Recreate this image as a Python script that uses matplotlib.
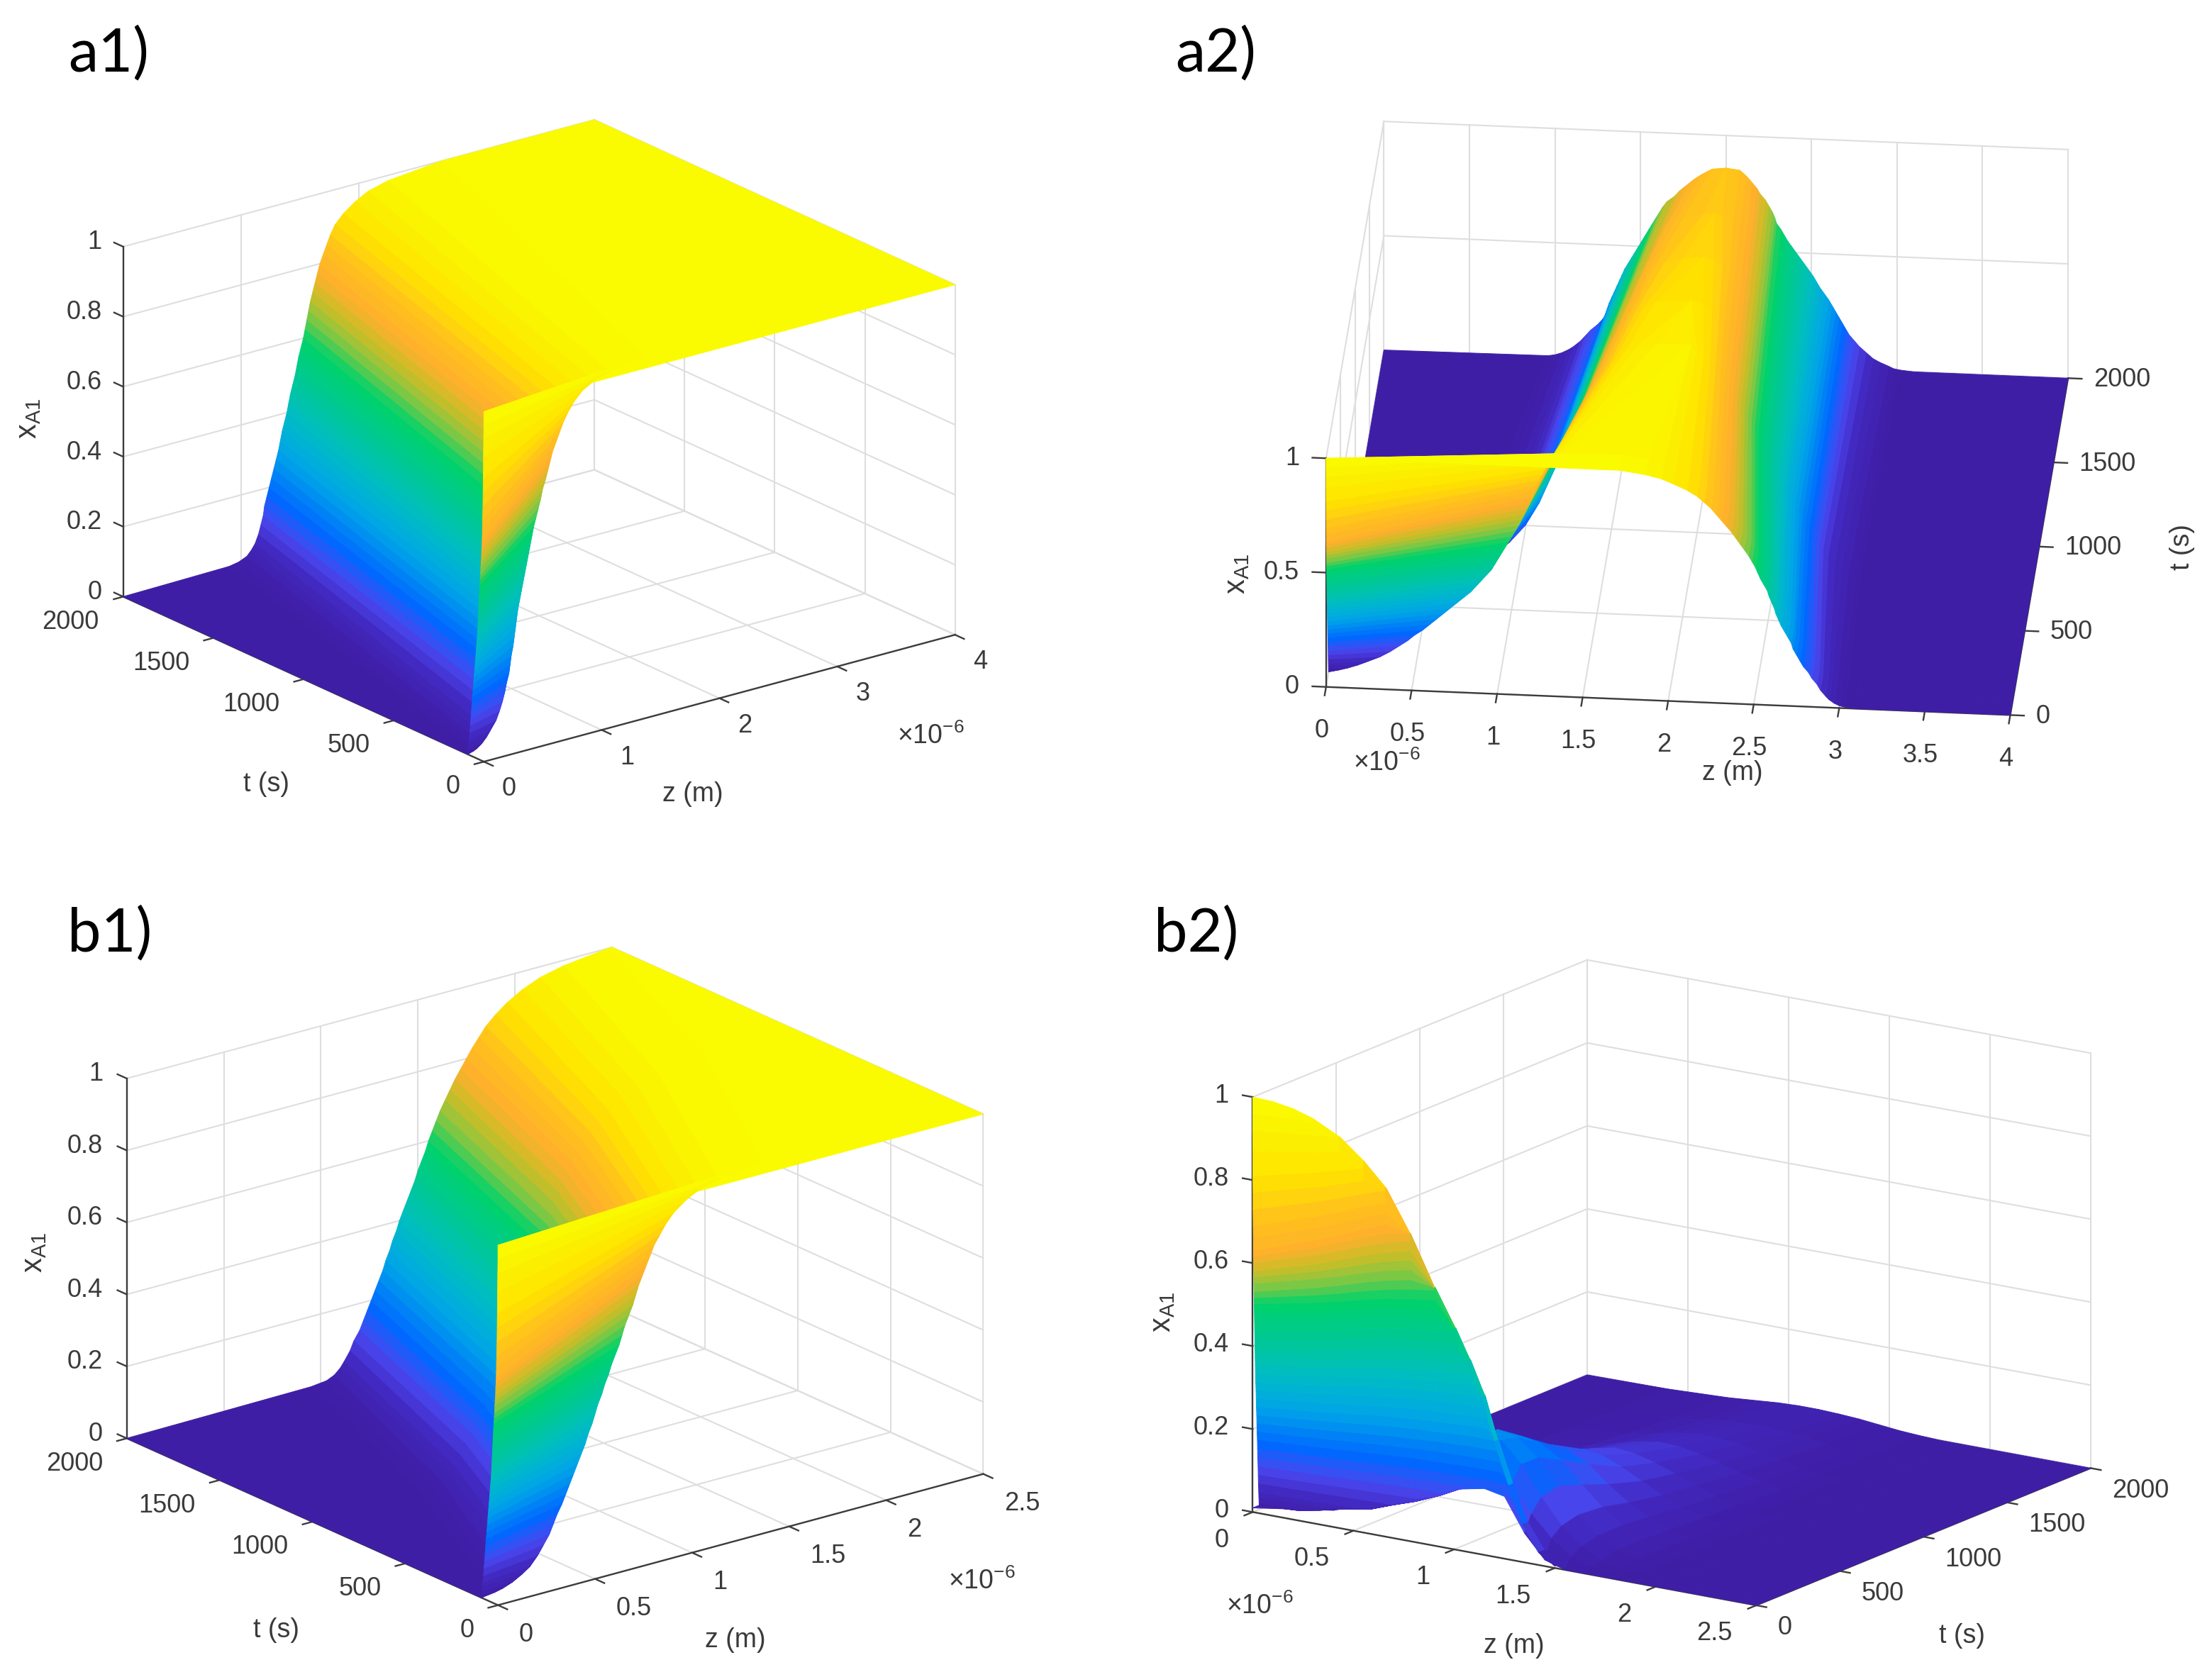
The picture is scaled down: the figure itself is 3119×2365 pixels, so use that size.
import numpy as np
import matplotlib
matplotlib.use("Agg")
import matplotlib.pyplot as plt
from matplotlib.colors import LinearSegmentedColormap
from mpl_toolkits.mplot3d import proj3d

plt.rcParams["font.family"] = ["Liberation Sans", "DejaVu Sans"]
plt.rcParams["mathtext.fontset"] = "custom"
plt.rcParams["mathtext.rm"] = "Liberation Sans"
plt.rcParams["mathtext.default"] = "regular"

# x_A1 levels, and the z position (in 1e-6 m) where each level sits at a few times
levels = [0, .005, .01, .02, .035, .05, .075, .1, .125, .15, .175, .2, .225, .25, .275, .3, .325, .35, .375, .4, .425, .45, .475,
          .5, .525, .55, .575, .6, .625, .65, .675, .7, .725, .75, .775, .8, .825, .85, .875, .9, .925, .95, .97, .985, 1]
# where each level meets the z=0 edge of the thin front sheet: time and height
edge_t = [90, 89, 88, 86, 84, 82, 78, 75, 72, 69, 66, 63, 60, 57, 54, 51, 48, 45, 42, 39, 36, 34, 32,
          30, 28, 26, 24, 22, 20, 18, 17, 15, 13, 12, 10, 9, 8, 7, 5, 4, 3, 2, 1, 0, 0]
edge_height = [0, .004, .008, .017, .03, .042, .064, .085, .106, .127, .149, .17, .19, .21, .23, .25, .27, .29, .31, .33, .35, .37, .39,
               .415, .435, .46, .48, .5, .515, .53, .55, .565, .58, .6, .615, .63, .66, .69, .73, .77, .81, .87, .92, .96, 1]

# a1
a1_times = [90, 2000]
a1_z_t90 = [0, .05, .08, .12, .16, .19, .24, .27, .295, .315, .33, .35, .36, .37, .385, .395, .405, .415, .425, .44, .455, .47, .485,
            .5, .515, .53, .545, .56, .58, .6, .62, .635, .66, .68, .7, .72, .75, .78, .81, .85, .9, .97, 1.07, 1.2, 1.5]
a1_z_t2000 = [0, .9, .98, 1.05, 1.09, 1.12, 1.15, 1.17, 1.19, 1.2, 1.22, 1.24, 1.26, 1.28, 1.3, 1.32, 1.335, 1.35, 1.37, 1.39, 1.405, 1.42, 1.44,
              1.46, 1.475, 1.49, 1.51, 1.53, 1.545, 1.56, 1.575, 1.59, 1.61, 1.63, 1.65, 1.67, 1.7, 1.73, 1.76, 1.8, 1.87, 1.97, 2.08, 2.25, 2.7]

# b1
b1_times = [90, 1000, 2000]
b1_z_t90 = [0, .07, .11, .16, .21, .25, .29, .32, .35, .37, .39, .415, .435, .455, .475, .495, .515, .535, .55, .57, .585, .6, .62,
            .635, .655, .67, .69, .71, .725, .74, .76, .78, .795, .81, .83, .85, .87, .89, .92, .95, .99, 1.05, 1.12, 1.22, 1.45]
b1_z_t1000 = [0, .55, .62, .66, .7, .73, .76, .79, .82, .84, .86, .88, .9, .925, .94, .955, .975, .995, 1.01, 1.03, 1.045, 1.065, 1.085,
              1.105, 1.12, 1.14, 1.16, 1.175, 1.195, 1.21, 1.23, 1.25, 1.275, 1.295, 1.32, 1.345, 1.37, 1.4, 1.43, 1.47, 1.52, 1.59, 1.67, 1.78, 2.02]
b1_z_t2000 = [0, .95, 1.03, 1.07, 1.1, 1.12, 1.15, 1.17, 1.2, 1.22, 1.24, 1.26, 1.28, 1.3, 1.32, 1.335, 1.355, 1.37, 1.39, 1.405, 1.425, 1.445, 1.465,
              1.485, 1.5, 1.52, 1.54, 1.555, 1.575, 1.595, 1.615, 1.64, 1.665, 1.69, 1.72, 1.75, 1.78, 1.815, 1.85, 1.9, 1.96, 2.04, 2.13, 2.25, 2.48]

# a2, rising side then falling side of the hump
a2_times = [90, 800, 2000]
a2_peak = [1, .97, .857]
a2_up_t90 = [0, .03, .06, .11, .17, .22, .3, .36, .41, .46, .5, .55, .59, .63, .67, .71, .75, .79, .83, .86, .89, .92, .95,
             .97, .99, 1.01, 1.03, 1.05, 1.07, 1.09, 1.11, 1.125, 1.14, 1.155, 1.17, 1.185, 1.2, 1.21, 1.225, 1.24, 1.26, 1.28, 1.31, 1.35, 1.45]
a2_up_t800 = [0, .68, .74, .82, .87, .9, .94, .97, 1.0, 1.03, 1.05, 1.07, 1.09, 1.11, 1.125, 1.14, 1.155, 1.17, 1.185, 1.2, 1.215, 1.23, 1.24,
              1.25, 1.265, 1.28, 1.295, 1.31, 1.325, 1.34, 1.355, 1.37, 1.385, 1.4, 1.42, 1.44, 1.465, 1.49, 1.525, 1.56, 1.61, 1.68, 1.8, 2.0, 2.0]
a2_up_t2000 = [0, .96, 1.0, 1.04, 1.08, 1.11, 1.15, 1.18, 1.21, 1.25, 1.28, 1.3, 1.31, 1.32, 1.335, 1.35, 1.365, 1.38, 1.395, 1.41, 1.43, 1.45, 1.47,
               1.49, 1.51, 1.53, 1.55, 1.57, 1.59, 1.61, 1.63, 1.655, 1.7, 1.73, 1.77, 1.81, 1.86, 1.92, 2.0, 2.0, 2.0, 2.0, 2.0, 2.0, 2.0]
a2_down_t90 = [3.1, 3.03, 3.0, 2.97, 2.94, 2.92, 2.89, 2.87, 2.84, 2.82, 2.79, 2.77, 2.75, 2.73, 2.72, 2.7, 2.68, 2.66, 2.645, 2.63, 2.62, 2.605, 2.59,
               2.58, 2.56, 2.54, 2.525, 2.51, 2.49, 2.47, 2.445, 2.42, 2.395, 2.37, 2.34, 2.31, 2.28, 2.25, 2.21, 2.17, 2.11, 2.03, 1.96, 1.87, 1.72]
a2_down_t800 = [3.05, 2.99, 2.96, 2.92, 2.88, 2.84, 2.8, 2.77, 2.75, 2.73, 2.71, 2.69, 2.67, 2.65, 2.63, 2.61, 2.59, 2.57, 2.555, 2.54, 2.52, 2.5, 2.48,
                2.46, 2.44, 2.42, 2.405, 2.39, 2.37, 2.35, 2.33, 2.31, 2.29, 2.27, 2.245, 2.22, 2.195, 2.17, 2.14, 2.11, 2.07, 2.03, 2.0, 2.0, 2.0]
a2_down_t2000 = [3.1, 3.02, 2.98, 2.95, 2.9, 2.86, 2.82, 2.78, 2.75, 2.72, 2.7, 2.68, 2.66, 2.64, 2.62, 2.6, 2.575, 2.55, 2.53, 2.51, 2.485, 2.46, 2.435,
                 2.41, 2.385, 2.36, 2.34, 2.32, 2.295, 2.285, 2.27, 2.25, 2.23, 2.2, 2.18, 2.15, 2.12, 2.08, 2.0, 2.0, 2.0, 2.0, 2.0, 2.0, 2.0]

# a2, closer look at the top of the hump, levels .8 and up
top_levels = [.8, .825, .85, .875, .9, .925, .95, .97, .985, 1]
top_times = [800, 1100, 1400, 1700, 2000]
top_peak = [.97, .94, .91, .88, .857]
top_up = [
    [1.44, 1.465, 1.49, 1.525, 1.56, 1.61, 1.68, 1.8, 2.0, 2.0],
    [1.52, 1.55, 1.58, 1.62, 1.67, 1.74, 1.95, 1.95, 1.95, 1.95],
    [1.6, 1.64, 1.68, 1.74, 1.85, 1.97, 1.97, 1.97, 1.97, 1.97],
    [1.69, 1.74, 1.8, 1.92, 1.98, 1.98, 1.98, 1.98, 1.98, 1.98],
    [1.81, 1.86, 1.92, 2.0, 2.0, 2.0, 2.0, 2.0, 2.0, 2.0],
]
top_down = [
    [2.22, 2.195, 2.17, 2.14, 2.11, 2.07, 2.03, 2.0, 2.0, 2.0],
    [2.2, 2.17, 2.14, 2.11, 2.07, 2.02, 1.95, 1.95, 1.95, 1.95],
    [2.18, 2.15, 2.12, 2.08, 2.03, 1.97, 1.97, 1.97, 1.97, 1.97],
    [2.17, 2.13, 2.09, 2.03, 1.98, 1.98, 1.98, 1.98, 1.98, 1.98],
    [2.15, 2.12, 2.08, 2.0, 2.0, 2.0, 2.0, 2.0, 2.0, 2.0],
]

# b2, sheet that drops from the t=0 curve to the low curve within a few seconds
b2_sheet_z = [0, .1, .2, .3, .43, .55, .66, .78, .9, 1.0, 1.07, 1.14, 1.2, 1.27, 1.34, 1.42, 1.5]
b2_top = [1, .998, .99, .975, .943, .895, .84, .74, .62, .53, .46, .38, .28, .18, .09, .03, .005]
b2_low = [.01, .012, .015, .025, .04, .05, .07, .09, .115, .14, .15, .155, .16, .13, .08, .025, .004]
b2_fan = [1, .9, .8, .7, .55, .4, .28, .18, .1, .05, 0, 0, 0, 0, 0, 0, 0]
b2_sheet_t = [40, 39, 39, 38, 37, 36, 34, 33, 32, 30, 29, 28, 26, 25, 24, 22, 21, 20, 18, 17, 16, 15, 14,
              13, 12, 11, 10, 9, 9, 8, 7, 7, 6, 5, 4, 4, 4, 3, 2, 2, 1, 1, 0, 0, 0]

# b2, low ridge that stays behind the sheet
b2_times = [0, 40, 100, 200, 344, 500, 700, 900, 1167, 1400, 1680, 2000]
b2_z = [0, .4, .7, .85, .95, 1.05, 1.15, 1.25, 1.35, 1.45, 1.55, 1.65, 1.75, 1.85, 2.0, 2.5]
b2_ridge = [
    [.01, .04, .09, .115, .14, .15, .16, .15, .07, .015, 0, 0, 0, 0, 0, 0],
    [.01, .04, .09, .12, .15, .17, .19, .17, .11, .06, .025, .008, .002, 0, 0, 0],
    [0, .035, .1, .17, .22, .25, .26, .21, .14, .08, .04, .015, .005, .001, 0, 0],
    [0, .03, .1, .18, .23, .26, .25, .21, .15, .09, .05, .025, .01, .003, 0, 0],
    [0, .02, .08, .14, .19, .22, .21, .18, .13, .085, .05, .025, .012, .004, 0, 0],
    [0, .015, .065, .115, .155, .175, .17, .145, .105, .07, .045, .022, .01, .004, 0, 0],
    [0, .01, .05, .09, .115, .13, .125, .105, .08, .055, .035, .018, .008, .003, 0, 0],
    [0, .007, .04, .07, .09, .1, .095, .082, .065, .045, .028, .014, .006, .002, 0, 0],
    [0, .005, .03, .05, .062, .07, .068, .058, .046, .032, .02, .01, .004, .001, 0, 0],
    [0, .003, .02, .035, .044, .05, .05, .044, .035, .025, .014, .007, .002, 0, 0, 0],
    [0, .002, .012, .02, .027, .03, .03, .027, .022, .015, .008, .004, .001, 0, 0, 0],
    [0, .002, .008, .014, .018, .02, .02, .018, .015, .01, .005, .002, 0, 0, 0, 0],
]

# tick labels
t_ticks = [0, 500, 1000, 1500, 2000]
x_ticks_fine = [0, .2, .4, .6, .8, 1]
x_labels_fine = ["0", "0.2", "0.4", "0.6", "0.8", "1"]
x_ticks_coarse = [0, .5, 1]
x_labels_coarse = ["0", "0.5", "1"]
z_ticks_a1 = [0, 1, 2, 3, 4]
z_labels_a1 = ["0", "1", "2", "3", "4"]
z_ticks_a2 = [0, .5, 1, 1.5, 2, 2.5, 3, 3.5, 4]
z_labels_a2 = ["0", "0.5", "1", "1.5", "2", "2.5", "3", "3.5", "4"]
z_ticks_b = [0, .5, 1, 1.5, 2, 2.5]
z_labels_b = ["0", "0.5", "1", "1.5", "2", "2.5"]

W, H = 3119, 2365
DPI = 200
K = W / 1568  # layout below is in the 1568 wide picture

colors = [(0, "#3f1ea6"), (.06, "#4228c0"), (.12, "#4848f0"), (.19, "#0068ff"), (.3, "#00a4e8"),
          (.4, "#00bcc4"), (.5, "#00c896"), (.6, "#00d26a"), (.66, "#78c846"), (.72, "#c8be28"),
          (.78, "#ffaf2d"), (.85, "#ffc01e"), (.92, "#ffe100"), (1, "#fafa00")]
cmap = LinearSegmentedColormap.from_list("surf", colors, N=256)

fig = plt.figure(figsize=(W / DPI, H / DPI), dpi=DPI)


def screen(ax, z, t, x):
    xs, ys, _ = proj3d.proj_transform(z, t, x, ax.get_proj())
    return ax.transData.transform((xs, ys))


def set_square(ax, left, bottom, size):
    ax.set_position([left / W, bottom / H, size / W, size / H])
    ax.apply_aspect()


def place(ax, corner, far, zmax):
    # scale and shift the square axes so the z axis lands on the wanted pixels
    target = np.hypot(far[0] - corner[0], far[1] - corner[1]) * K
    set_square(ax, 0, 0, 1000)
    p0 = screen(ax, 0, 0, 0)
    p1 = screen(ax, zmax, 0, 0)
    size = 1000 * target / np.hypot(*(p1 - p0))
    set_square(ax, 0, 0, size)
    p0 = screen(ax, 0, 0, 0)
    set_square(ax, corner[0] * K - p0[0], H - corner[1] * K - p0[1], size)


def put(x, y, s, **kw):
    fig.text(x * K / W, 1 - y * K / H, s, zorder=10, **kw)


def tick_text(ax, pos, s, dx, dy, ha="center"):
    p = screen(ax, *pos)
    fig.text((p[0] + dx * K) / W, (p[1] - dy * K) / H, s, ha=ha, va="center",
             fontsize=13, color="#3a3a3a", zorder=10)


def draw_frame(ax, zmax, z_ticks, x_ticks, wall_z, axis_t_at_z, t_dir, x_axis):
    grid = dict(color="#dedede", lw=0.75, zorder=0)
    dark = dict(color="#3c3c3c", lw=0.85, zorder=1)
    for z in z_ticks:
        ax.plot([z, z], [0, 2000], [0, 0], **grid)
        ax.plot([z, z], [2000, 2000], [0, 1], **grid)
    for t in t_ticks:
        ax.plot([0, zmax], [t, t], [0, 0], **grid)
        ax.plot([wall_z, wall_z], [t, t], [0, 1], **grid)
    for x in x_ticks:
        ax.plot([0, zmax], [2000, 2000], [x, x], **grid)
        ax.plot([wall_z, wall_z], [0, 2000], [x, x], **grid)
    # axis lines and tick marks
    ax.plot([0, zmax], [0, 0], [0, 0], **dark)
    ax.plot([axis_t_at_z, axis_t_at_z], [0, 2000], [0, 0], **dark)
    ax.plot([x_axis[0]] * 2, [x_axis[1]] * 2, [0, 1], **dark)
    for z in z_ticks:
        ax.plot([z, z], [0, -50], [0, 0], **dark)
    for t in t_ticks:
        ax.plot([axis_t_at_z, axis_t_at_z + t_dir * zmax * .02], [t, t], [0, 0], **dark)
    for x in x_ticks:
        if x_axis[1] > 0:
            ax.plot([0, 0], [2000, 2050], [x, x], **dark)
        else:
            ax.plot([0, -zmax * .02], [0, 0], [x, x], **dark)


def surf(ax, X, Y, Z, order):
    poly = ax.plot_surface(np.array(X), np.array(Y), np.array(Z), cmap=cmap, vmin=0, vmax=1, shade=False,
                           rcount=200, ccount=200, linewidth=0.35, zorder=order)
    poly.set_edgecolor("face")


def level_mids(lev):
    lev = np.array(lev, dtype=float)
    return (lev + np.append(lev[1:], lev[-1])) / 2


def level_surf(ax, X, Y, Z, values, order):
    # the sheet keeps the colour of its level even where its height leans away from it
    X = np.array(X)
    values = np.broadcast_to(values, X.shape)
    ax.plot_surface(X, np.array(Y), np.array(Z), facecolors=cmap(values), shade=False,
                    rcount=200, ccount=200, linewidth=0.35, zorder=order)


def new_axes(zmax, elev, azim, box):
    ax = fig.add_subplot(projection="3d", proj_type="ortho", computed_zorder=False)
    ax.set_axis_off()
    ax.view_init(elev=elev, azim=azim)
    ax.set_box_aspect(box)
    ax.set_xlim(0, zmax)
    ax.set_ylim(0, 2000)
    ax.set_zlim(0, 1)
    return ax


def step_surface(ax, times, rows, zmax):
    # one rising step followed by a flat top out to zmax
    lev = levels + [1]
    X = [[0] * len(levels) + [zmax]] + [r + [zmax] for r in rows]
    Y = [edge_t + [0]] + [[t] * len(lev) for t in times]
    Z = [edge_height + [1]] + [lev] * len(rows)
    level_surf(ax, X[:2], Y[:2], Z[:2], level_mids(lev), 3)
    surf(ax, X[1:], Y[1:], Z[1:], 2)


# ---- a1
ax = new_axes(4, 20.55, -127.5, (421, 420, 265))
place(ax, (343, 540), (677, 450), 4)
draw_frame(ax, 4, z_ticks_a1, x_ticks_fine, 4, 0, -1, (0, 2000))
step_surface(ax, a1_times, [a1_z_t90, a1_z_t2000], 4)
for x, s in zip(x_ticks_fine, x_labels_fine):
    tick_text(ax, (0, 2000, x), s, -15, -3, "right")
for t in t_ticks:
    tick_text(ax, (0, t, 0), str(t), -17, 18, "right")
for z, s in zip(z_ticks_a1, z_labels_a1):
    tick_text(ax, (z, 0, 0), s, 18, 19.5)

# ---- a2
ax = new_axes(4, 29.3, -85.2, (487, 490, 186))
place(ax, (940, 487), (1425, 507), 4)
draw_frame(ax, 4, z_ticks_a2, x_ticks_coarse, 0, 4, 1, (0, 0))
lev2 = levels + levels[::-1] + [0]
rows_z = [[0] * len(levels) + a2_down_t90[::-1] + [4]]
for up, down in zip([a2_up_t90, a2_up_t800, a2_up_t2000], [a2_down_t90, a2_down_t800, a2_down_t2000]):
    rows_z.append(up + down[::-1] + [4])
X = np.array(rows_z)
Y = np.array([edge_t + [0] * (len(levels) + 1)] + [[t] * len(lev2) for t in a2_times])
Z = np.array([edge_height + levels[::-1] + [0]] + [np.minimum(lev2, p) for p in a2_peak])
level_surf(ax, X[:2], Y[:2], Z[:2], level_mids(lev2), 3)
surf(ax, X[1:], Y[1:], Z[1:], 2)
lev_top = top_levels + top_levels[::-1]
X = np.array([u + d[::-1] for u, d in zip(top_up, top_down)])
Y = np.array([[t] * len(lev_top) for t in top_times])
Z = np.array([np.minimum(lev_top, p) for p in top_peak])
surf(ax, X, Y, Z, 2.5)
for x, s in zip(x_ticks_coarse, x_labels_coarse):
    tick_text(ax, (0, 0, x), s, -19, 0, "right")
for z, s in zip(z_ticks_a2, z_labels_a2):
    tick_text(ax, (z, 0, 0), s, -3, 31)
for t in t_ticks:
    tick_text(ax, (4, t, 0), str(t), 18, 1, "left")

# ---- b1
ax = new_axes(2.5, 20.4, -127.8, (435, 429, 272))
place(ax, (353, 1138), (697, 1045), 2.5)
draw_frame(ax, 2.5, z_ticks_b, x_ticks_fine, 2.5, 0, -1, (0, 2000))
step_surface(ax, b1_times, [b1_z_t90, b1_z_t1000, b1_z_t2000], 2.5)
for x, s in zip(x_ticks_fine, x_labels_fine):
    tick_text(ax, (0, 2000, x), s, -17, -3, "right")
for t in t_ticks:
    tick_text(ax, (0, t, 0), str(t), -17, 18, "right")
for z, s in zip(z_ticks_b, z_labels_b):
    tick_text(ax, (z, 0, 0), s, 15, 21, "left")

# ---- b2
ax = new_axes(2.5, 16.0, -56.1, (430, 425, 306))
place(ax, (888, 1072), (1245, 1138), 2.5)
draw_frame(ax, 2.5, z_ticks_b, x_ticks_fine, 0, 2.5, 1, (0, 0))
surf(ax, np.tile(b2_z, (len(b2_times), 1)), np.tile(b2_times, (len(b2_z), 1)).T, b2_ridge, 2)
X = np.tile(b2_sheet_z, (len(levels), 1)).T
Y = np.tile(b2_sheet_t, (len(b2_sheet_z), 1))
fan = np.array(b2_fan)[:, None]
low = np.array(b2_low)[:, None]
high = np.array(b2_top)[:, None]
Z = (1 - fan) * np.array(levels)[None, :] + fan * np.array(edge_height)[None, :]
Z = np.clip(Z, low, high)
level_surf(ax, X, Y, Z, np.clip(level_mids(levels)[None, :], low, high), 3)
for x, s in zip(x_ticks_fine, x_labels_fine):
    tick_text(ax, (0, 0, x), s, -17, -1, "right")
for z, s in zip(z_ticks_b, z_labels_b):
    tick_text(ax, (z, 0, 0), s, -17, 20, "right")
for t in t_ticks:
    tick_text(ax, (2.5, t, 0), str(t), 15, 16, "left")

# axis titles and panel letters
label = dict(fontsize=13.5, color="#3a3a3a", ha="center", va="center")
xlabel = dict(fontsize=15, color="#3a3a3a", ha="center", va="center", rotation=90)
put(189, 556, "t (s)", **label)
put(491, 563, "z (m)", **label)
put(20, 297, "x$_{A1}$", **xlabel)
put(660, 522, "×10$^{-6}$", **label)
put(1547, 388, "t (s)", rotation=90, **label)
put(1228, 548, "z (m)", **label)
put(877, 407, "x$_{A1}$", **xlabel)
put(983, 541, "×10$^{-6}$", **label)
put(196, 1156, "t (s)", **label)
put(521, 1163, "z (m)", **label)
put(24, 888, "x$_{A1}$", **xlabel)
put(696, 1121, "×10$^{-6}$", **label)
put(1391, 1160, "t (s)", **label)
put(1073, 1167, "z (m)", **label)
put(824, 930, "x$_{A1}$", **xlabel)
put(893, 1139, "×10$^{-6}$", **label)

panel = dict(fontsize=30.5, family="Lato", color="black", ha="center", va="center")
put(77, 38, "a1)", **panel)
put(862, 38, "a2)", **panel)
put(78, 662, "b1)", **panel)
put(848, 662, "b2)", **panel)

fig.savefig("out.png", dpi=DPI)
